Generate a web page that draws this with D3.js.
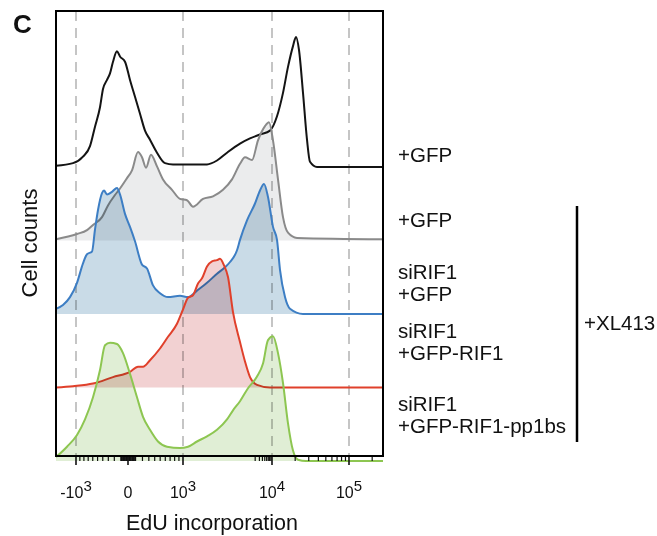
<!DOCTYPE html>
<html>
<head>
<meta charset="utf-8">
<script src="https://cdn.jsdelivr.net/npm/d3@7"></script>
<style>
  body { margin: 0; background: #fff; }
  text { font-family: "Liberation Sans", Arial, sans-serif; fill: #111; }
</style>
</head>
<body>
<div id="chart"></div>
<script>
// EdU histograms, [display channel, cell counts (% of max)]
var gfpCtrl = [[0,1],[17,3],[27,8],[34,16],[39,31],[44,46],[47,60],[51,67],[54,72],[57,81],[61,89],[64,85],[69,81],[74,67],[79,54],[84,41],[89,28],[94,21],[101,11],[109,3],[117,2],[134,2],[151,2],[161,5],[171,11],[184,18],[194,22],[204,25],[214,28],[221,39],[227,57],[232,77],[237,93],[240,100],[243,90],[247,57],[251,21],[254,4],[261,0],[327,0]];
var gfpXL = [[0,1],[21,5],[31,8],[37,12],[46,18],[52,27],[59,35],[64,40],[71,48],[76,54],[82,68],[86,64],[90,56],[95,66],[101,57],[107,47],[116,39],[124,32],[131,31],[137,26],[147,32],[157,34],[167,39],[176,47],[184,59],[189,64],[196,62],[202,77],[209,88],[213,91],[217,77],[222,47],[227,18],[232,6],[241,2],[327,1]];
var siGfpXL = [[0,4],[7,7],[14,13],[21,24],[27,39],[31,46],[36,48],[39,65],[42,80],[46,93],[48,95],[51,92],[56,94],[61,97],[64,92],[69,77],[74,67],[79,56],[86,38],[91,35],[97,22],[104,16],[112,13],[124,14],[132,13],[141,18],[151,24],[161,31],[169,36],[174,40],[181,49],[184,57],[191,72],[199,85],[204,95],[208,100],[212,90],[217,67],[221,57],[224,34],[229,13],[234,4],[247,0],[327,0]];
var siRifXL = [[0,0],[17,1],[37,3],[57,8],[74,12],[82,16],[87,16],[94,21],[104,30],[112,39],[121,49],[127,60],[132,69],[137,71],[142,80],[146,84],[151,93],[156,97],[161,98],[164,99],[168,94],[172,85],[177,58],[184,35],[189,20],[194,8],[201,2],[214,0],[327,0]];
var siPp1bsXL = [[0,3],[11,11],[21,20],[29,32],[37,49],[44,70],[49,89],[54,91],[61,90],[67,83],[74,67],[81,49],[87,34],[94,24],[102,15],[111,11],[124,10],[132,11],[141,15],[151,19],[161,24],[171,32],[177,39],[184,46],[192,56],[201,65],[207,75],[212,93],[217,96],[222,83],[227,60],[232,29],[237,8],[242,1],[250,0],[327,0]];

var seriesNames = ["+GFP", "+GFP +XL413", "siRIF1 +GFP +XL413", "siRIF1 +GFP-RIF1 +XL413", "siRIF1 +GFP-RIF1-pp1bs +XL413"];
var seriesData = [gfpCtrl, gfpXL, siGfpXL, siRifXL, siPp1bsXL];
var lineColors = ["#141414", "#8a8a8a", "#3d7ec4", "#e0402b", "#8dc651"];
var fillColors = [null, "#ebeced", "#c9dbe7", "#f2d1d2", "#e0eed5"];
var labelLines = [["+GFP"], ["+GFP"], ["siRIF1", "+GFP"], ["siRIF1", "+GFP-RIF1"], ["siRIF1", "+GFP-RIF1-pp1bs"]];

// axis: EdU values at the labelled decades and their display channels
var decadeVals = [-1000, 0, 1000, 10000, 100000];
var decadeCh = [20, 72, 127, 216, 293];
var tickBase = ["-10", "0", "10", "10", "10"];
var tickExp = ["3", "", "3", "4", "5"];
var gridVals = [-1000, 1000, 10000, 100000];

var width = 657, height = 536;
var svg = d3.select("#chart").append("svg")
    .attr("width", width)
    .attr("height", height);

var x = d3.scaleLinear().domain([0, 327]).range([56, 383]);
// biexponential-like display: near linear inside +-10^3, log outside
var sym = function (v) {
    var a = Math.abs(v);
    return Math.sign(v) * (a <= 1000 ? Math.log10(1 + a / 1000) : Math.log10(a));
};
var edu = d3.scaleLinear().domain(decadeVals.map(sym)).range(decadeCh);
var xv = function (v) { return x(edu(sym(v))); };

var lane = d3.scalePoint().domain(seriesNames).range([167, 461]);
var h = d3.scaleLinear().domain([0, 100]).range([0, 130]);

var yTop = 11, yBottom = 456;

// dashed decade lines
svg.append("g").selectAll("line")
    .data(gridVals)
    .join("line")
    .attr("x1", xv).attr("x2", xv)
    .attr("y1", yTop).attr("y2", yBottom)
    .attr("stroke", "#b3b3b3")
    .attr("stroke-width", 1.5)
    .attr("stroke-dasharray", "10,7");

// histograms
seriesNames.forEach(function (name, i) {
    var base = lane(name);
    var area = d3.area()
        .x(function (d) { return x(d[0]); })
        .y0(base)
        .y1(function (d) { return base - h(d[1]); })
        .curve(d3.curveMonotoneX);
    var line = d3.line()
        .x(function (d) { return x(d[0]); })
        .y(function (d) { return base - h(d[1]); })
        .curve(d3.curveMonotoneX);
    if (fillColors[i]) {
        svg.append("path")
            .datum(seriesData[i])
            .attr("d", area)
            .attr("fill", fillColors[i])
            .style("mix-blend-mode", "multiply");
    }
    svg.append("path")
        .datum(seriesData[i])
        .attr("d", line)
        .attr("fill", "none")
        .attr("stroke", lineColors[i])
        .attr("stroke-width", 2)
        .attr("stroke-linejoin", "round");
});

// ticks
var minor = [];
[10, 100, 1000, 10000, 100000].forEach(function (d) {
    for (var m = 1; m < 10; m++) {
        [m * d, -m * d].forEach(function (v) {
            if (decadeVals.indexOf(v) < 0) {
                var c = edu(sym(v));
                if (c > 2 && c < 325) minor.push(v);
            }
        });
    }
});

var ax = svg.append("g");
ax.selectAll("line.minor")
    .data(minor)
    .join("line")
    .attr("class", "minor")
    .attr("x1", xv).attr("x2", xv)
    .attr("y1", yBottom).attr("y2", yBottom + 5)
    .attr("stroke", "#111")
    .attr("stroke-width", 1.2);
ax.selectAll("line.major")
    .data(decadeVals)
    .join("line")
    .attr("class", "major")
    .attr("x1", xv).attr("x2", xv)
    .attr("y1", yBottom).attr("y2", yBottom + 9)
    .attr("stroke", "#111")
    .attr("stroke-width", 1.6);

var lab = ax.selectAll("text.tick")
    .data(decadeVals)
    .join("text")
    .attr("class", "tick")
    .attr("x", xv)
    .attr("y", 498)
    .attr("text-anchor", "middle")
    .style("font-size", "16px");
lab.append("tspan").text(function (d, i) { return tickBase[i]; });
lab.append("tspan")
    .attr("dy", -7)
    .style("font-size", "15px")
    .text(function (d, i) { return tickExp[i]; });

// frame
svg.append("rect")
    .attr("x", x(0)).attr("y", yTop)
    .attr("width", x(327) - x(0))
    .attr("height", yBottom - yTop)
    .attr("fill", "none")
    .attr("stroke", "#000")
    .attr("stroke-width", 2);

// titles
svg.append("text")
    .attr("x", 13).attr("y", 33)
    .style("font-size", "26px")
    .style("font-weight", "bold")
    .text("C");
svg.append("text")
    .attr("transform", "translate(37,243) rotate(-90)")
    .attr("text-anchor", "middle")
    .style("font-size", "22px")
    .text("Cell counts");
svg.append("text")
    .attr("x", 212).attr("y", 530)
    .attr("text-anchor", "middle")
    .style("font-size", "21.5px")
    .text("EdU incorporation");

// sample labels
var labelY = [162, 227, 279, 338, 411];
labelLines.forEach(function (lines, i) {
    svg.append("g").selectAll("text")
        .data(lines)
        .join("text")
        .attr("x", 398)
        .attr("y", function (d, j) { return labelY[i] + j * 22; })
        .style("font-size", "20.5px")
        .text(function (d) { return d; });
});

svg.append("line")
    .attr("x1", 577).attr("x2", 577)
    .attr("y1", 206).attr("y2", 442)
    .attr("stroke", "#000")
    .attr("stroke-width", 2.5);
svg.append("text")
    .attr("x", 584).attr("y", 330)
    .style("font-size", "20.5px")
    .text("+XL413");
</script>
</body>
</html>
